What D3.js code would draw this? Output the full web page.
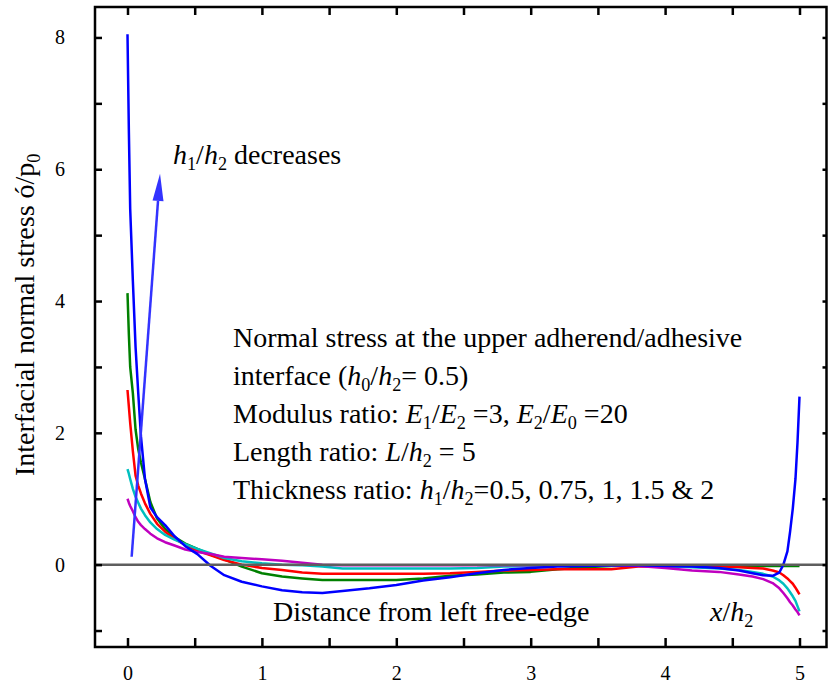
<!DOCTYPE html>
<html>
<head>
<meta charset="utf-8">
<script src="https://cdn.jsdelivr.net/npm/d3@7"></script>
<style>
  html, body { margin: 0; padding: 0; background: #fff; }
  svg { display: block; }
  text { font-family: "Liberation Serif", "Times New Roman", serif; fill: #000; }
</style>
</head>
<body>
<svg id="chart" width="828" height="685"></svg>
<script>
// ---------------- data ----------------
const xs = [0, 0.01, 0.02, 0.04, 0.06, 0.08, 0.1, 0.13, 0.17, 0.22, 0.28, 0.35, 0.43, 0.52, 0.62, 0.72, 0.85,
  1.0, 1.15, 1.3, 1.45, 1.6, 1.8, 2.0, 2.2, 2.4, 2.6, 2.8, 3.0, 3.2, 3.4, 3.6, 3.8, 4.0, 4.2, 4.4,
  4.55, 4.65, 4.73, 4.8, 4.85, 4.88, 4.91, 4.93, 4.95, 4.97, 4.985, 5.0];

const blueVals = [8.05, 6.6, 5.4, 4.3, 3.3, 2.6, 1.95, 1.3, 0.87, 0.72, 0.60, 0.43, 0.28, 0.16, -0.02, -0.16, -0.26,
  -0.33, -0.39, -0.42, -0.43, -0.40, -0.36, -0.31, -0.24, -0.19, -0.13, -0.08, -0.05, -0.03, -0.02, -0.01, -0.01, -0.02, -0.03, -0.05,
  -0.09, -0.13, -0.16, -0.17, -0.12, 0.0, 0.2, 0.5, 0.85, 1.3, 1.85, 2.55];

const greenVals = [4.12, 3.5, 3.0, 2.6, 2.05, 1.75, 1.55, 1.3, 0.95, 0.70, 0.54, 0.42, 0.32, 0.24, 0.15, 0.08, -0.03,
  -0.13, -0.18, -0.21, -0.235, -0.235, -0.235, -0.235, -0.21, -0.17, -0.15, -0.12, -0.11, -0.07, -0.04, -0.02, -0.01, -0.01, -0.02, -0.02,
  -0.02, -0.02, -0.02, -0.02, -0.02, -0.02, -0.02, -0.02, -0.02, -0.02, -0.02, -0.02];

const redVals = [2.65, 2.4, 2.15, 1.72, 1.35, 1.2, 1.08, 0.93, 0.77, 0.62, 0.50, 0.39, 0.30, 0.21, 0.14, 0.07, 0.0,
  -0.05, -0.08, -0.12, -0.14, -0.14, -0.14, -0.14, -0.14, -0.13, -0.11, -0.09, -0.08, -0.07, -0.07, -0.07, -0.03, -0.03, -0.03, -0.03,
  -0.04, -0.05, -0.06, -0.09, -0.12, -0.16, -0.21, -0.25, -0.29, -0.35, -0.40, -0.45];

const cyanVals = [1.45, 1.38, 1.3, 1.15, 1.03, 0.94, 0.85, 0.75, 0.64, 0.54, 0.45, 0.38, 0.31, 0.24, 0.17, 0.10, 0.05,
  0.02, 0.0, -0.01, -0.03, -0.06, -0.06, -0.06, -0.06, -0.06, -0.05, -0.03, -0.02, -0.01, -0.01, -0.01, -0.01, -0.02, -0.04, -0.06,
  -0.08, -0.11, -0.14, -0.18, -0.24, -0.29, -0.36, -0.42, -0.48, -0.55, -0.63, -0.71];

const magentaVals = [1.0, 0.94, 0.89, 0.81, 0.72, 0.65, 0.60, 0.54, 0.47, 0.40, 0.34, 0.29, 0.23, 0.19, 0.16, 0.12, 0.10,
  0.08, 0.06, 0.03, 0.0, -0.01, -0.01, -0.01, -0.01, -0.01, -0.01, -0.01, -0.01, -0.01, -0.01, -0.01, -0.02, -0.05, -0.09, -0.11,
  -0.15, -0.18, -0.22, -0.28, -0.36, -0.43, -0.51, -0.57, -0.62, -0.68, -0.72, -0.77];

const seriesNames = ["h1/h2=0.5", "h1/h2=0.75", "h1/h2=1", "h1/h2=1.5", "h1/h2=2"];
const seriesColors = ["#0000ff", "#008000", "#ff0000", "#00bfbf", "#bf00bf"];

const xTicksMajor = [0, 1, 2, 3, 4, 5];
const xTicksAll = [0, 0.5, 1, 1.5, 2, 2.5, 3, 3.5, 4, 4.5, 5];
const yTicksAll = [-1, 0, 1, 2, 3, 4, 5, 6, 7, 8];
const yTickLabels = [0, 2, 4, 6, 8];

// arrow (data coords): from tail to head
const arrowTail = [0.031, 0.12];
const arrowHead = [0.242, 5.93];

// ---------------- layout ----------------
const L = 95, R = 826.5, T = 7, B = 647;
const x = d3.scaleLinear().domain([-0.2418, 5.2009]).range([L, R]);
const y = d3.scaleLinear().domain([-1.25, 8.4621]).range([B, T]);

const svg = d3.select("#chart");

// curves
const seriesVals = [blueVals, greenVals, redVals, cyanVals, magentaVals];
const drawOrder = [1, 2, 3, 4, 0];
const line = d3.line().x(d => x(d[0])).y(d => y(d[1]));
drawOrder.forEach(i => {
  const pts = xs.map((xv, k) => [xv, seriesVals[i][k]]);
  svg.append("path")
    .attr("d", line(pts))
    .attr("fill", "none")
    .attr("stroke", seriesColors[i])
    .attr("stroke-width", 2.5)
    .attr("stroke-linejoin", "round")
    .attr("data-name", seriesNames[i]);
});

// zero line
svg.append("line")
  .attr("x1", x.range()[0]).attr("x2", x.range()[1])
  .attr("y1", y(0)).attr("y2", y(0))
  .attr("stroke", "#5e5e5e").attr("stroke-width", 2.5);

// axes
const fmtX = d => (xTicksMajor.includes(d) ? d : "");
const fmtY = d => (yTickLabels.includes(d) ? d : "");

const gB = svg.append("g").attr("transform", `translate(0,${B})`)
  .call(d3.axisBottom(x).tickValues(xTicksAll).tickSize(-9).tickPadding(19).tickFormat(fmtX));
const gT = svg.append("g").attr("transform", `translate(0,${T})`)
  .call(d3.axisTop(x).tickValues(xTicksAll).tickSize(-8).tickFormat(""));
const gL = svg.append("g").attr("transform", `translate(${L},0)`)
  .call(d3.axisLeft(y).tickValues(yTicksAll).tickSize(-7).tickPadding(30).tickFormat(fmtY));
const gR = svg.append("g").attr("transform", `translate(${R},0)`)
  .call(d3.axisRight(y).tickValues(yTicksAll).tickSize(-4).tickFormat(""));

[gB, gT, gL, gR].forEach(g => {
  g.select(".domain").remove();
  g.selectAll(".tick line").attr("stroke", "#000").attr("stroke-width", 2.5);
  g.selectAll(".tick text").attr("font-family", "Liberation Serif").attr("font-size", 20).attr("fill", "#000");
});

// frame
svg.append("rect")
  .attr("x", L).attr("y", T).attr("width", R - L).attr("height", B - T)
  .attr("fill", "none").attr("stroke", "#000").attr("stroke-width", 2.5);

// arrow
const ax0 = x(arrowTail[0]), ay0 = y(arrowTail[1]);
const ax1 = x(arrowHead[0]), ay1 = y(arrowHead[1]);
const ang = Math.atan2(ay1 - ay0, ax1 - ax0);
const headLen = 27, headW = 5.5;
const bx = ax1 - headLen * Math.cos(ang), by = ay1 - headLen * Math.sin(ang);
svg.append("line")
  .attr("x1", ax0).attr("y1", ay0).attr("x2", bx).attr("y2", by)
  .attr("stroke", "#3333ff").attr("stroke-width", 2.5);
svg.append("path")
  .attr("d", `M${ax1},${ay1} L${bx + headW * Math.sin(ang)},${by - headW * Math.cos(ang)} L${bx - headW * Math.sin(ang)},${by + headW * Math.cos(ang)} Z`)
  .attr("fill", "#3333ff");

// rich text helper: segments [text, style] style: "" normal, "i" italic, "s" sub, "is" italic sub
function rich(xp, yp, segs, size) {
  const t = svg.append("text").attr("x", xp).attr("y", yp).attr("font-size", size);
  let inSub = false;
  segs.forEach(([txt, st]) => {
    const ts = t.append("tspan").text(txt);
    const sub = st.includes("s");
    if (st.includes("i")) ts.attr("font-style", "italic");
    if (sub) ts.attr("font-size", size * 0.65);
    if (sub && !inSub) ts.attr("dy", size * 0.22);
    if (!sub && inSub) ts.attr("dy", -size * 0.22);
    inSub = sub;
  });
  return t;
}

const fs = 28;
rich(173, 164, [["h", "i"], ["1", "s"], ["/", ""], ["h", "i"], ["2", "s"], [" decreases", ""]], fs);

const bx0 = 233, by0 = 347, lh = 38;
rich(bx0, by0, [["Normal stress at the upper adherend/adhesive", ""]], fs);
rich(bx0, by0 + lh, [["interface (", ""], ["h", "i"], ["0", "s"], ["/", ""], ["h", "i"], ["2", "s"], ["= 0.5)", ""]], fs);
rich(bx0, by0 + 2 * lh, [["Modulus ratio: ", ""], ["E", "i"], ["1", "s"], ["/", ""], ["E", "i"], ["2", "s"], [" =3, ", ""],
  ["E", "i"], ["2", "s"], ["/", ""], ["E", "i"], ["0", "s"], [" =20", ""]], fs);
rich(bx0, by0 + 3 * lh, [["Length ratio: ", ""], ["L", "i"], ["/", ""], ["h", "i"], ["2", "s"], [" = 5", ""]], fs);
rich(bx0, by0 + 4 * lh, [["Thickness ratio: ", ""], ["h", "i"], ["1", "s"], ["/", ""], ["h", "i"], ["2", "s"], ["=0.5, 0.75, 1, 1.5 & 2", ""]], fs);

rich(273, 621, [["Distance from left free-edge", ""]], fs);
rich(710, 621, [["x", "i"], ["/", ""], ["h", "i"], ["2", "s"]], fs);

// y-axis title
const yt = svg.append("g").attr("transform", `translate(34,476) rotate(-90)`);
(function () {
  const t = yt.append("text").attr("x", 0).attr("y", 0).attr("font-size", fs);
  t.append("tspan").text("Interfacial normal stress ó/p");
  t.append("tspan").text("0").attr("font-size", fs * 0.65).attr("dy", fs * 0.22);
})();
</script>
</body>
</html>
